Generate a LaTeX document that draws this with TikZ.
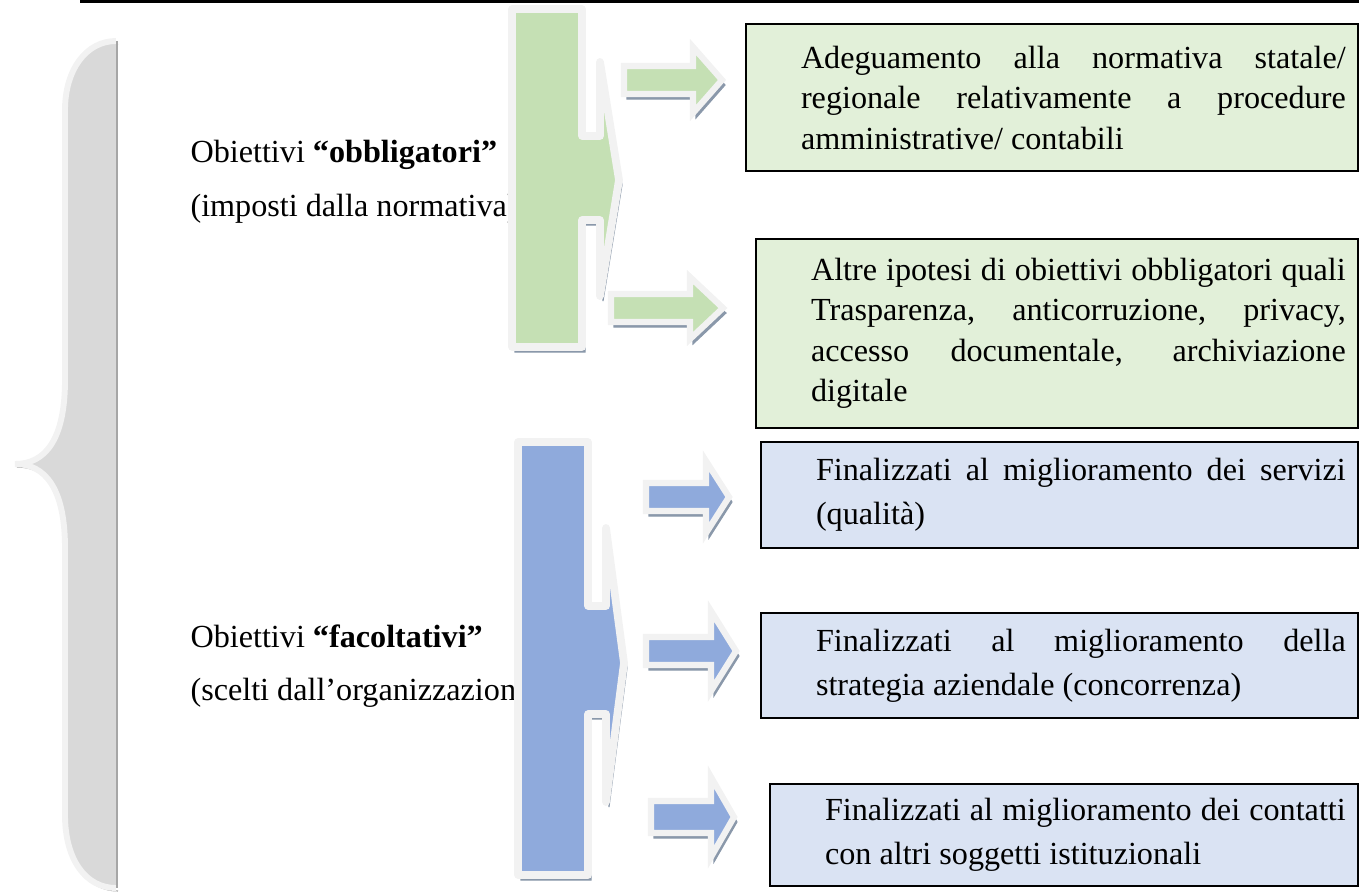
\documentclass[tikz,border=0pt]{standalone}
\usepackage{fontspec}
\setmainfont{Liberation Serif}

\definecolor{greenfill}{HTML}{C5E0B4}
\definecolor{bluefill}{HTML}{8FAADC}
\definecolor{greenbg}{HTML}{E2F0D9}
\definecolor{bluebg}{HTML}{DAE3F3}
\definecolor{edgelight}{HTML}{F2F2F2}
\definecolor{slate}{HTML}{8A98AA}
\definecolor{bracefill}{HTML}{D9D9D9}
\definecolor{braceshade}{HTML}{A6A6A6}

\tikzset{
  bigshape/.style={draw=edgelight, line width=2.9pt, line join=round,
    preaction={draw=slate, fill=slate, transform canvas={shift={(3,5)}}}},
  smallarrow/.style={draw=edgelight, line width=2.3pt, line join=miter,
    preaction={draw=slate, fill=slate, transform canvas={shift={(3,5)}}}},
  goalbox/.style={draw=black, line width=0.8pt, anchor=north west, align=justify,
    inner xsep=0.157cm, inner ysep=0pt,
    execute at begin node={\leftskip=0.563cm\hyphenpenalty=10000\exhyphenpenalty=10000}},
  greenbox/.style={goalbox, fill=greenbg, font=\fontsize{12}{15.1}\selectfont},
  bluebox/.style={goalbox, fill=bluebg, font=\fontsize{12}{16.4}\selectfont},
  goallabel/.style={anchor=base west, inner sep=0pt, font=\fontsize{12}{14}\selectfont}
}

\begin{document}
\begin{tikzpicture}[x=0.0131cm, y=-0.0131cm]
\useasboundingbox (0,0) rectangle (1359,893);

% rule on top
\draw[line width=1.1pt] (80,1.5) -- (1359,1.5);

% brace
\draw[fill=bracefill, draw=edgelight, line width=2.2pt,
      preaction={draw=braceshade, transform canvas={shift={(2,3)}}}]
  (116,41) .. controls (86,41) and (65,70) .. (65,110) -- (65,380)
  .. controls (65,440) and (45,464) .. (15,464)
  .. controls (45,464) and (65,488) .. (65,548) -- (65,815)
  .. controls (65,860) and (86,888) .. (116,888);
\draw[braceshade, line width=1.1pt] (117,41) -- (117,888);

% left labels
\node[goallabel] (obbl) at (190,162) {Obiettivi \textbf{“obbligatori”}};
\node[goallabel] (obblnote) at (190,216) {(imposti dalla normativa)};
\node[goallabel] (facolt) at (190,647) {Obiettivi \textbf{“facoltativi”}};
\node[goallabel] (facoltnote) at (190,700) {(scelti dall’organizzazione)};

% callout shapes
\draw[bigshape, fill=greenfill] (512,9) -- (582,9) -- (582,136) -- (600,136) -- (600,62)
  -- (619,180) -- (600,296) -- (600,220) -- (582,220) -- (582,347) -- (512,347) -- cycle;
\draw[bigshape, fill=bluefill] (518,442) -- (588,442) -- (588,606) -- (606,606) -- (606,528)
  -- (624,663) -- (606,802) -- (606,714) -- (588,714) -- (588,875) -- (518,875) -- cycle;

% small arrows
\draw[smallarrow, fill=greenfill] (624,66) -- (693,66) -- (693,47) -- (722,80) -- (693,113) -- (693,94) -- (624,94) -- cycle;
\draw[smallarrow, fill=greenfill] (611,294) -- (690,294) -- (690,277) -- (723,308) -- (690,339) -- (690,322) -- (611,322) -- cycle;
\draw[smallarrow, fill=bluefill] (646,483) -- (706,483) -- (706,461) -- (729,497) -- (706,533) -- (706,511) -- (646,511) -- cycle;
\draw[smallarrow, fill=bluefill] (646,637) -- (711,637) -- (711,611) -- (736,651) -- (711,691) -- (711,665) -- (646,665) -- cycle;
\draw[smallarrow, fill=bluefill] (651,801) -- (711,801) -- (711,777) -- (734,817) -- (711,857) -- (711,833) -- (651,833) -- cycle;

% boxes
\node[greenbox, text width=7.703cm, minimum height=1.926cm] (adeg) at (745,23)
  {Adeguamento alla normativa statale/ regionale relativamente a procedure amministrative/ contabili};
\node[greenbox, text width=7.572cm, minimum height=2.476cm] (altre) at (755,238)
  {Altre ipotesi di obiettivi obbligatori quali Trasparenza, anticorruzione, privacy, accesso documentale, archiviazione\linebreak digitale};
\node[bluebox, text width=7.506cm, minimum height=1.389cm] (servizi) at (760,441)
  {Finalizzati al miglioramento dei servizi (qualità)};
\node[bluebox, text width=7.506cm, minimum height=1.376cm] (strategia) at (760,612)
  {Finalizzati al miglioramento della strategia aziendale (concorrenza)};
\node[bluebox, text width=7.388cm, minimum height=1.336cm] (contatti) at (769,783)
  {Finalizzati al miglioramento dei contatti con altri soggetti istituzionali};
\end{tikzpicture}
\end{document}
